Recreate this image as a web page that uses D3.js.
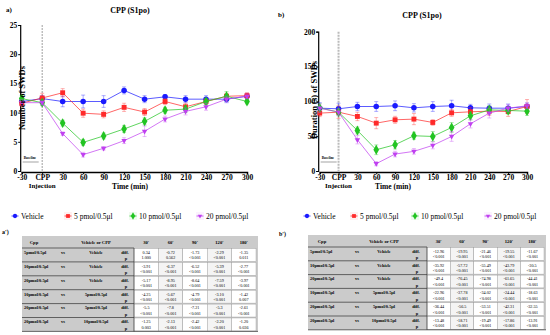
<!DOCTYPE html>
<html>
<head>
<meta charset="utf-8">
<script src="https://cdn.jsdelivr.net/npm/d3@7"></script>
<style>
  body { margin: 0; background: #fff; }
  svg { font-family: "Liberation Serif", "DejaVu Serif", serif; }
</style>
</head>
<body>
<svg width="550" height="335"></svg>
<script>
// time points (min), tick labels
var times = [-30, 0, 30, 60, 90, 120, 150, 180, 210, 240, 270, 300];
var tickLabels = ["-30", "CPP", "30", "60", "90", "120", "150", "180", "210", "240", "270", "300"];
var groups = ["Vehicle", "5 pmol/0.5\u03bcl", "10 pmol/0.5\u03bcl", "20 pmol/0.5\u03bcl"];
var colors = ["#1a1aff", "#ff2a2a", "#22c422", "#c040f0"];

// panel a: number of SWDs
var numVehicle = [11.9, 12.4, 11.9, 11.9, 11.9, 13.8, 12.3, 12.7, 12.3, 12.3, 12.3, 12.8];
var numVehicleErr = [0.6, 0.5, 0.9, 1.1, 1.0, 0.6, 0.6, 0.4, 0.6, 0.6, 0.6, 0.5];
var num5 = [11.6, 12.5, 13.4, 9.9, 9.7, 10.9, 10.1, 11.9, 11.0, 11.9, 12.8, 12.9];
var num5Err = [0.5, 0.8, 0.7, 0.7, 0.6, 0.7, 0.6, 0.5, 0.6, 0.5, 0.5, 0.5];
var num10 = [12.4, 11.7, 8.2, 4.9, 6.0, 7.2, 8.5, 10.4, 10.6, 11.9, 12.8, 11.9];
var num10Err = [0.5, 0.5, 0.5, 0.5, 0.5, 0.6, 0.6, 0.5, 0.6, 0.5, 0.8, 0.4];
var num20 = [11.7, 11.7, 6.4, 2.8, 3.9, 5.2, 6.8, 8.9, 10.2, 11.0, 12.3, 12.8];
var num20Err = [0.5, 0.4, 0.3, 0.4, 0.3, 0.5, 0.9, 0.5, 0.6, 0.6, 0.5, 0.4];

// panel b: duration (s) of SWDs
var durVehicle = [90.2, 89.3, 92.6, 92.6, 93.6, 90.7, 92.6, 93.6, 90.7, 90.2, 90.2, 92.6];
var durVehicleErr = [8, 8, 6, 7, 7, 6, 7, 8, 5, 6, 6, 5];
var dur5 = [83.1, 84.5, 78.3, 68.7, 73.5, 74.5, 69.7, 83.5, 85.0, 85.9, 85.4, 92.6];
var dur5Err = [5, 9, 6, 8, 5, 8, 4, 5, 6, 6, 7, 10];
var dur10 = [90.7, 84.5, 58.2, 30.5, 37.7, 50.6, 49.6, 62.5, 79.2, 87.8, 86.9, 85.9];
var dur10Err = [6, 5, 5, 7, 6, 5, 7, 7, 6, 6, 5, 6];
var dur20 = [90.2, 84.5, 44.9, 10.5, 24.3, 28.2, 36.8, 49.6, 67.8, 83.1, 90.2, 93.6];
var dur20Err = [6, 5, 6, 3, 4, 4, 5, 7, 6, 7, 5, 4];

// comparison tables
var tableHeader = ["30'", "60'", "90'", "120'", "180'"];
var rowCpp = ["5pmol/0.5\u03bcl", "10pmol/0.5\u03bcl", "20pmol/0.5\u03bcl", "10pmol/0.5\u03bcl", "20pmol/0.5\u03bcl", "20pmol/0.5\u03bcl"];
var rowRef = ["Vehicle", "Vehicle", "Vehicle", "5pmol/0.5\u03bcl", "5pmol/0.5\u03bcl", "10pmol/0.5\u03bcl"];
var diffA = [["0.34", "-0.72", "-1.73", "-2.29", "-1.35"],
             ["-3.91", "-6.37", "-6.52", "-5.39", "-2.77"],
             ["-5.17", "-8.95", "-8.64", "-7.59", "-3.97"],
             ["-4.25", "-5.67", "-4.79", "-3.10", "-1.42"],
             ["-5.5", "-7.8", "-7.21", "-5.3", "-2.61"],
             ["-1.25", "-2.13", "-2.42", "-2.20", "-1.20"]];
var pA = [["1.000", "0.562", "<0.001", "<0.001", "0.011"],
          ["<0.001", "<0.001", "<0.001", "<0.001", "<0.001"],
          ["<0.001", "<0.001", "<0.001", "<0.001", "<0.001"],
          ["<0.001", "<0.001", "<0.001", "<0.001", "0.007"],
          ["<0.001", "<0.001", "<0.001", "<0.001", "<0.001"],
          ["0.003", "<0.001", "<0.001", "<0.001", "0.036"]];
var diffB = [["-12.96", "-19.95", "-21.46", "-19.55", "-11.67"],
             ["-35.92", "-57.72", "-55.49", "-43.79", "-30.5"],
             ["-49.4", "-76.45", "-74.98", "-61.65", "-44.41"],
             ["-22.96", "-37.78", "-34.02", "-24.44", "-18.63"],
             ["-36.44", "-56.5", "-53.51", "-42.31", "-32.55"],
             ["-13.48", "-18.71", "-19.49", "-17.86", "-13.91"]];
var pB = [["<0.001", "<0.001", "<0.001", "<0.001", "<0.001"],
          ["<0.001", "<0.001", "<0.001", "<0.001", "<0.001"],
          ["<0.001", "<0.001", "<0.001", "<0.001", "<0.001"],
          ["<0.001", "<0.001", "<0.001", "<0.001", "<0.001"],
          ["<0.001", "<0.001", "<0.001", "<0.001", "<0.001"],
          ["<0.001", "<0.001", "<0.001", "<0.001", "<0.001"]];

var svg = d3.select("svg");
var symbols = [d3.symbolCircle, d3.symbolSquare, d3.symbolDiamond, d3.symbolTriangle];
var symSizes = [24, 24, 28, 13];

function marker(sel, i, scale) {
    var s = scale || 1;
    sel.attr("d", d3.symbol().type(symbols[i]).size(symSizes[i] * s)())
        .attr("fill", colors[i]);
    if (i == 3) sel.attr("transform", function () { return d3.select(this).attr("transform") + " rotate(180)"; });
}

function drawPanel(p) {
    var x = d3.scaleLinear().domain([-30, 300]).range([p.x0, p.x1]);
    var y = d3.scaleLinear().domain([0, p.yMax]).range([p.yBottom, p.yTop]);
    var g = svg.append("g");

    g.append("text").attr("x", p.tagX).attr("y", p.tagY)
        .style("font-size", "7px").style("font-weight", "bold").text(p.tag);
    g.append("text").attr("x", p.titleX).attr("y", p.titleY).attr("text-anchor", "middle")
        .style("font-size", "8px").style("font-weight", "bold").text("CPP (S1po)");

    // injection line
    g.append("line")
        .attr("x1", x(0)).attr("x2", x(0))
        .attr("y1", p.yTop).attr("y2", p.yBottom)
        .attr("stroke", p.dashColor).attr("stroke-width", p.dashWidth)
        .attr("stroke-dasharray", "2,1");

    // baseline marker
    g.append("text").attr("x", x(-30) + 2).attr("y", p.yBottom - 12)
        .style("font-size", "3.5px").style("font-weight", "bold").text("Baseline");
    g.append("line").attr("x1", x(-30) + 1).attr("x2", x(-30) + 17)
        .attr("y1", p.yBottom - 9).attr("y2", p.yBottom - 9)
        .attr("stroke", "#666").attr("stroke-width", 0.6);

    var yAxis = g.append("g")
        .attr("transform", "translate(" + (p.x0 - 1.5) + ",0)")
        .call(d3.axisLeft(y).tickValues(p.yTicks).tickSize(2).tickPadding(1));
    yAxis.select(".domain").attr("stroke-width", 1.2);
    yAxis.selectAll("text").style("font-size", "7.5px").style("font-weight", "bold")
        .style("font-family", "Liberation Serif, serif");

    var xAxis = g.append("g")
        .attr("transform", "translate(0," + (p.yBottom + 1) + ")")
        .call(d3.axisBottom(x).tickValues(times).tickSize(2).tickPadding(1)
            .tickFormat(function (d, i) { return tickLabels[i]; }));
    xAxis.select(".domain").attr("stroke-width", 1.5);
    xAxis.selectAll("text").style("font-size", "7.5px").style("font-weight", "bold")
        .style("font-family", "Liberation Serif, serif");
    g.append("text").attr("x", x(0)).attr("y", p.yBottom + 16.5).attr("text-anchor", "middle")
        .style("font-size", "7px").style("font-weight", "bold").text("Injection");
    g.append("text").attr("x", p.xTitleX).attr("y", p.yBottom + 17.5).attr("text-anchor", "middle")
        .style("font-size", "7.5px").style("font-weight", "bold").text("Time (min)");

    // series
    var line = d3.line().x(function (d, i) { return x(times[i]); }).y(function (d) { return y(d); });
    p.series.forEach(function (s, k) {
        var sg = g.append("g");
        sg.selectAll(".eb").data(s.v).enter().append("path")
            .attr("d", function (d, i) {
                var cx = x(times[i]), lo = y(d - s.e[i]), hi = y(d + s.e[i]);
                return "M" + cx + "," + lo + "V" + hi + "M" + (cx - 2) + "," + lo + "H" + (cx + 2) +
                    "M" + (cx - 2) + "," + hi + "H" + (cx + 2);
            })
            .attr("stroke", colors[k]).attr("stroke-opacity", 0.45).attr("stroke-width", 0.8).attr("fill", "none");
        sg.append("path").datum(s.v).attr("d", line)
            .attr("fill", "none").attr("stroke", colors[k]).attr("stroke-opacity", 0.8).attr("stroke-width", 0.9);
        sg.selectAll(".pt").data(s.v).enter().append("path")
            .attr("transform", function (d, i) { return "translate(" + x(times[i]) + "," + y(d) + ")"; })
            .each(function () { marker(d3.select(this), k); });
    });

    // y title drawn over the axis like the original
    g.append("text")
        .attr("transform", "translate(" + p.yTitleX + "," + p.yTitleY + ") rotate(-90)")
        .attr("text-anchor", "middle")
        .style("font-size", "8.5px").style("font-weight", "bold").text(p.yTitle);

    // legend
    groups.forEach(function (name, k) {
        var lx = p.legendX[k];
        g.append("rect").attr("x", lx - 4).attr("y", p.legendY - 4).attr("width", 8).attr("height", 8)
            .attr("fill", colors[k]).attr("fill-opacity", k == 0 ? 0 : 0.07);
        g.append("line").attr("x1", lx - 3.5).attr("x2", lx + 3.5).attr("y1", p.legendY).attr("y2", p.legendY)
            .attr("stroke", colors[k]).attr("stroke-width", 0.8);
        g.append("path").attr("transform", "translate(" + lx + "," + p.legendY + ")")
            .each(function () { marker(d3.select(this), k, 0.6); });
        g.append("text").attr("x", lx + 6).attr("y", p.legendY + 2.5)
            .style("font-size", "7.5px").text(name);
    });
}

function drawTable(t) {
    var g = svg.append("g");
    g.append("text").attr("x", t.tagX).attr("y", t.tagY)
        .style("font-size", "6px").style("font-weight", "bold").text(t.tag);
    var nRows = rowCpp.length;
    var bottom = t.top + t.headH + nRows * t.rowH;
    g.append("rect").attr("x", t.left).attr("y", t.top).attr("width", t.right - t.left)
        .attr("height", bottom - t.top).attr("fill", "#cbcbcb");

    var colX = d3.scaleBand().domain(d3.range(5)).range([t.valLeft, t.right - 2]);
    var hy = t.top + t.headH / 2 + 2;
    function ht(xp, txt, anchor) {
        g.append("text").attr("x", xp).attr("y", hy).attr("text-anchor", anchor || "middle")
            .style("font-size", "4.6px").style("font-weight", "bold").text(txt);
    }
    ht(t.cppX, "Cpp");
    ht(t.refX, "Vehicle or CPP");
    tableHeader.forEach(function (h, j) { ht(colX(j) + colX.bandwidth() / 2, h); });

    for (var r = 0; r < nRows; r++) {
        var ry = t.top + t.headH + r * t.rowH;
        g.append("line").attr("x1", t.left).attr("x2", t.valLeft).attr("y1", ry).attr("y2", ry)
            .attr("stroke", "#444").attr("stroke-width", 0.8);
        var ty = ry + t.rowH * 0.42;
        g.append("text").attr("x", t.left + 2).attr("y", ty).style("font-size", "4.4px")
            .style("font-weight", "bold").text(rowCpp[r]);
        g.append("text").attr("x", t.vsX).attr("y", ty).attr("text-anchor", "middle").style("font-size", "4.4px")
            .style("font-weight", "bold").text("vs");
        g.append("text").attr("x", t.refX).attr("y", ty).attr("text-anchor", "middle").style("font-size", "4.4px")
            .style("font-weight", "bold").text(rowRef[r]);
        g.append("text").attr("x", t.diffX).attr("y", ty).attr("text-anchor", "middle").style("font-size", "4.4px")
            .style("font-weight", "bold").text("diff.");
        g.append("text").attr("x", t.diffX + 1).attr("y", ry + t.rowH - 1.5).attr("text-anchor", "middle")
            .style("font-size", "4.4px").style("font-weight", "bold").text("p");
        for (var j = 0; j < 5; j++) {
            var cx = colX(j);
            g.append("rect").attr("x", cx).attr("y", ry + 0.5).attr("width", colX.bandwidth())
                .attr("height", t.rowH - 1).attr("fill", (j % 2 == 0) ? "#ffffff" : "#f4f4f4")
                .attr("stroke", "#9a9a9a").attr("stroke-width", 0.4);
            g.append("text").attr("x", cx + colX.bandwidth() / 2).attr("y", ry + t.rowH * 0.42)
                .attr("text-anchor", "middle").style("font-size", "4.2px").text(t.diff[r][j]);
            g.append("text").attr("x", cx + colX.bandwidth() / 2).attr("y", ry + t.rowH - 2.5)
                .attr("text-anchor", "middle").style("font-size", "4.2px").text(t.p[r][j]);
        }
    }
    g.append("line").attr("x1", t.left).attr("x2", t.right).attr("y1", bottom).attr("y2", bottom)
        .attr("stroke", "#444").attr("stroke-width", 0.8);
    g.append("line").attr("x1", t.valLeft).attr("x2", t.valLeft).attr("y1", t.top + t.headH).attr("y2", bottom)
        .attr("stroke", "#222").attr("stroke-width", 0.6);
}

drawPanel({
    tag: "a)", tagX: 6, tagY: 12, titleX: 130, titleY: 13,
    x0: 21.7, x1: 247, yTop: 25, yBottom: 171, yMax: 25, yTicks: [0, 5, 10, 15, 20, 25],
    dashColor: "#888", dashWidth: 0.8, xTitleX: 130,
    yTitle: "Number of SWDs", yTitleX: 25, yTitleY: 98,
    legendX: [15, 68, 133, 200], legendY: 216,
    series: [{ v: numVehicle, e: numVehicleErr }, { v: num5, e: num5Err },
             { v: num10, e: num10Err }, { v: num20, e: num20Err }]
});
drawPanel({
    tag: "b)", tagX: 278, tagY: 17, titleX: 422, titleY: 18,
    x0: 319.7, x1: 527, yTop: 31.7, yBottom: 171, yMax: 200, yTicks: [0, 50, 100, 150, 200],
    dashColor: "#bbb", dashWidth: 2, xTitleX: 393,
    yTitle: "Duration (s) of SWDs", yTitleX: 317, yTitleY: 100,
    legendX: [307, 354, 415, 488], legendY: 216,
    series: [{ v: durVehicle, e: durVehicleErr }, { v: dur5, e: dur5Err },
             { v: dur10, e: dur10Err }, { v: dur20, e: dur20Err }]
});

drawTable({
    tag: "a')", tagX: 2, tagY: 234, left: 22, right: 258, top: 236, headH: 12, rowH: 13.9,
    valLeft: 134, cppX: 34, vsX: 63, refX: 96, diffX: 125,
    diff: diffA, p: pA
});
drawTable({
    tag: "b')", tagX: 279, tagY: 236, left: 308, right: 546, top: 235, headH: 12, rowH: 13.8,
    valLeft: 427, cppX: 322, vsX: 357, refX: 384, diffX: 416,
    diff: diffB, p: pB
});
</script>
</body>
</html>
